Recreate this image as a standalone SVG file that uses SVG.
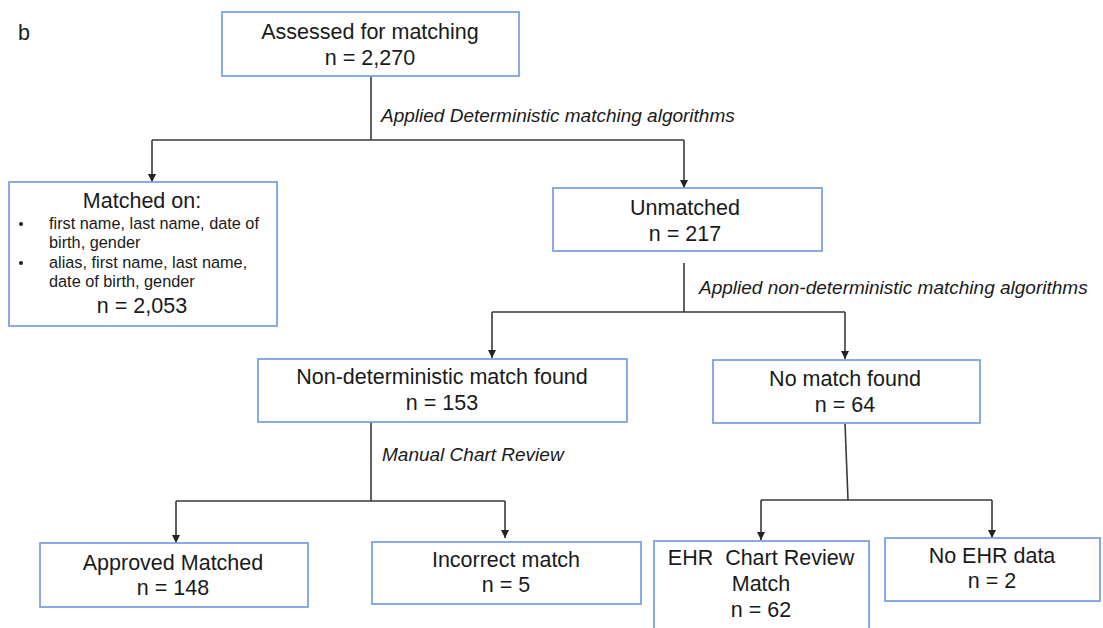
<svg xmlns="http://www.w3.org/2000/svg" width="1103" height="628" viewBox="0 0 1103 628">
<style>
.box{fill:#fff;stroke:#7ea1e4;stroke-width:1.8}
.t{font-family:"Liberation Sans",Arial,sans-serif;font-size:21.5px;fill:#1a1a1a;text-anchor:middle}
.s{font-family:"Liberation Sans",Arial,sans-serif;font-size:16.3px;fill:#1a1a1a}
.lbl{font-family:"Liberation Sans",Arial,sans-serif;font-size:19px;font-style:italic;fill:#1a1a1a}
.ln{fill:none;stroke:#3a3a3a;stroke-width:1.6}
</style>
<defs>
<marker id="ah" markerUnits="userSpaceOnUse" markerWidth="8" markerHeight="8" refX="8" refY="4" orient="auto">
<path d="M0,0 L8,4 L0,8 z" fill="#222"/>
</marker>
</defs>
<rect width="1103" height="628" fill="#fff"/>
<text x="18" y="40" class="t" style="text-anchor:start">b</text>

<g id="connectors">
<path class="ln" d="M371,76 V140"/>
<path class="ln" d="M152,140 H684"/>
<path class="ln" d="M152,140 V182" marker-end="url(#ah)"/>
<path class="ln" d="M684,140 V188" marker-end="url(#ah)"/>
<path class="ln" d="M684,263 V312"/>
<path class="ln" d="M492,312 H845"/>
<path class="ln" d="M492,312 V358" marker-end="url(#ah)"/>
<path class="ln" d="M845,312 V359" marker-end="url(#ah)"/>
<path class="ln" d="M371,422 V501"/>
<path class="ln" d="M176,501 H505"/>
<path class="ln" d="M176,501 V543" marker-end="url(#ah)"/>
<path class="ln" d="M505,501 V538" marker-end="url(#ah)"/>
<path class="ln" d="M845,423 L848,500"/>
<path class="ln" d="M761,500 H992"/>
<path class="ln" d="M761,500 V540" marker-end="url(#ah)"/>
<path class="ln" d="M992,500 V538" marker-end="url(#ah)"/>
<text x="381" y="122" class="lbl">Applied Deterministic matching algorithms</text>
<text x="699" y="294" class="lbl">Applied non-deterministic matching algorithms</text>
<text x="382" y="461" class="lbl">Manual Chart Review</text>
</g>

<g id="assessed">
<rect class="box" x="222" y="12" width="297" height="64"/>
<text x="370" y="39" class="t">Assessed for matching</text>
<text x="370" y="65" class="t">n = 2,270</text>
</g>

<g id="matched">
<rect class="box" x="9" y="182" width="268" height="144"/>
<text x="142" y="208" class="t">Matched on:</text>
<circle cx="21" cy="224" r="2" fill="#1a1a1a"/>
<text x="49" y="229" class="s">first name, last name, date of</text>
<text x="49" y="248" class="s">birth, gender</text>
<circle cx="21" cy="263" r="2" fill="#1a1a1a"/>
<text x="49" y="268" class="s">alias, first name, last name,</text>
<text x="49" y="287" class="s">date of birth, gender</text>
<text x="142" y="313" class="t">n = 2,053</text>
</g>

<g id="unmatched">
<rect class="box" x="553" y="188" width="269" height="63"/>
<text x="685" y="215" class="t">Unmatched</text>
<text x="685" y="241" class="t">n = 217</text>
</g>

<g id="nondet">
<rect class="box" x="258" y="359" width="369" height="63"/>
<text x="442" y="384" class="t">Non-deterministic match found</text>
<text x="442" y="410" class="t">n = 153</text>
</g>

<g id="nomatch">
<rect class="box" x="713" y="360" width="267" height="63"/>
<text x="845" y="386" class="t">No match found</text>
<text x="845" y="412" class="t">n = 64</text>
</g>

<g id="approved">
<rect class="box" x="40" y="543" width="268" height="64"/>
<text x="173" y="570" class="t">Approved Matched</text>
<text x="173" y="595" class="t">n = 148</text>
</g>

<g id="incorrect">
<rect class="box" x="372" y="542" width="269" height="62"/>
<text x="506" y="567" class="t">Incorrect match</text>
<text x="506" y="592" class="t">n = 5</text>
</g>

<g id="ehr">
<rect class="box" x="654" y="541" width="215" height="100"/>
<text x="761" y="565" class="t" xml:space="preserve">EHR  Chart Review</text>
<text x="761" y="591" class="t">Match</text>
<text x="761" y="617" class="t">n = 62</text>
</g>

<g id="noehr">
<rect class="box" x="885" y="538" width="215" height="63"/>
<text x="992" y="563" class="t">No EHR data</text>
<text x="992" y="588" class="t">n = 2</text>
</g>
</svg>
